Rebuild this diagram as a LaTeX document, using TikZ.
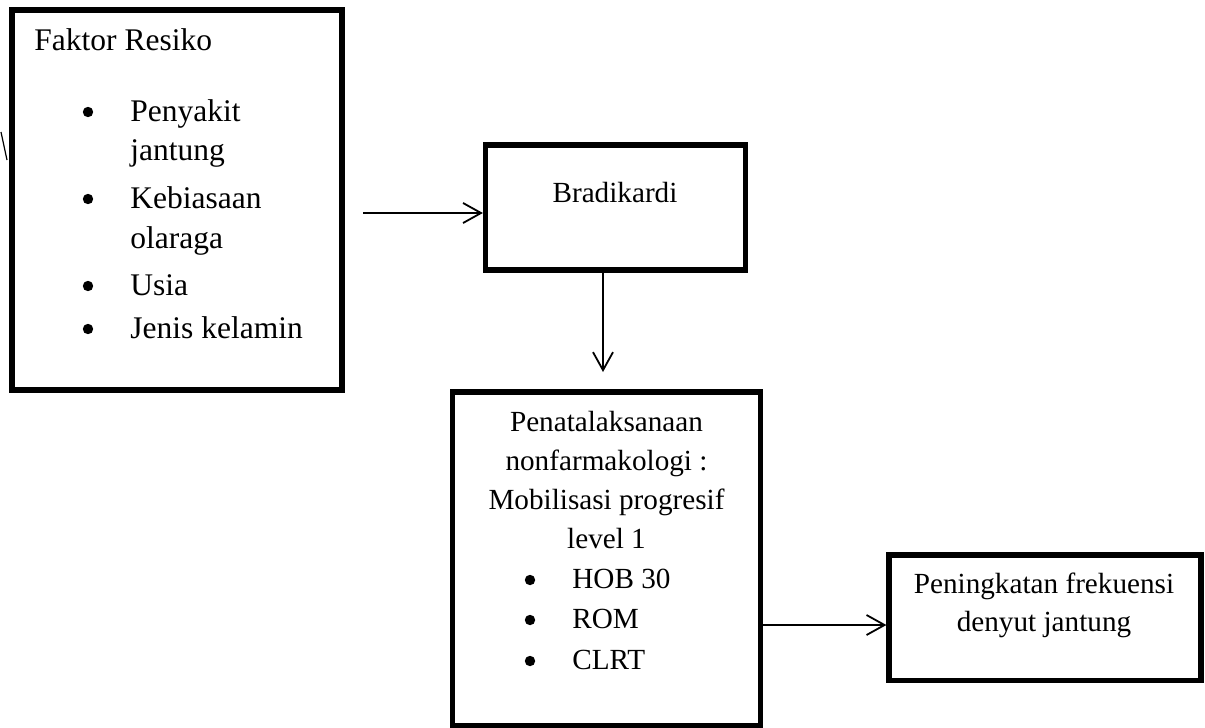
\documentclass[tikz,border=0pt]{standalone}
\usepackage{fontspec}
\setmainfont{Liberation Serif}
\usetikzlibrary{arrows.meta}
\tikzset{
  kotak/.style={draw,line width=2.6pt,minimum width=#1},
  panah/.style={-{Straight Barb[length=9pt,width=10pt]},line width=0.9pt},
  titik/.style={circle,fill,inner sep=0pt,minimum size=5.2pt},
  teksbesar/.style={font=\fontsize{15.75}{21}\selectfont,inner sep=0pt},
  teks/.style={font=\fontsize{14.6}{19.5}\selectfont,inner sep=0pt}
}
\begin{document}
\begin{tikzpicture}[x=0.5pt,y=-0.5pt]
   \useasboundingbox (0,0) rectangle (1205,728);
   % kotak
   \node[kotak=165pt,minimum height=190pt] (faktor) at (177,200) {};
   \node[kotak=130pt,minimum height=62.5pt] (bradi) at (615.5,207.5) {};
   \node[kotak=154pt,minimum height=167pt] (tata) at (606.5,559) {};
   \node[kotak=156pt,minimum height=62.75pt] (hasil) at (1045,617.75) {};
   % faktor resiko
   \node[teksbesar,anchor=base west] (judul) at (34,50) {Faktor Resiko};
   \foreach \yy/\txt [count=\i] in {121/Penyakit,160/jantung,208/Kebiasaan,248/olaraga,295/Usia,338/Jenis kelamin}
      \node[teksbesar,anchor=base west] (f\i) at (130,\yy) {\txt};
   \foreach \yy [count=\i] in {121,208,295,338}
      \node[titik] (fb\i) at (88,\yy-9) {};
   % bradikardi
   \node[teks,anchor=base] (tbradi) at (615,202) {Bradikardi};
   % penatalaksanaan
   \foreach \yy/\txt [count=\i] in {431/Penatalaksanaan,470/nonfarmakologi :,509/Mobilisasi progresif,548/level 1}
      \node[teks,anchor=base] (t\i) at (606.5,\yy) {\txt};
   \foreach \yy/\txt [count=\i] in {588/HOB 30,628/ROM,669/CLRT} {
      \node[titik] (tb\i) at (530,\yy-8) {};
      \node[teks,anchor=base west] (tl\i) at (572,\yy) {\txt};
   }
   % hasil
   \node[teks,anchor=base] (h1) at (1044,593) {Peningkatan frekuensi};
   \node[teks,anchor=base] (h2) at (1044,631) {denyut jantung};
   % panah
   \coordinate (a1) at (363,213);
   \coordinate (a2) at (603,372);
   \coordinate (a3) at (0,625);
   \draw[panah] (a1) -- (a1 -| bradi.west);
   \draw[panah] (a2 |- bradi.south) -- (a2);
   \draw[panah] (tata.east |- a3) -- (hasil.west |- a3);
   \draw[line width=0.6pt] (1,132) -- (7,160);
\end{tikzpicture}
\end{document}
